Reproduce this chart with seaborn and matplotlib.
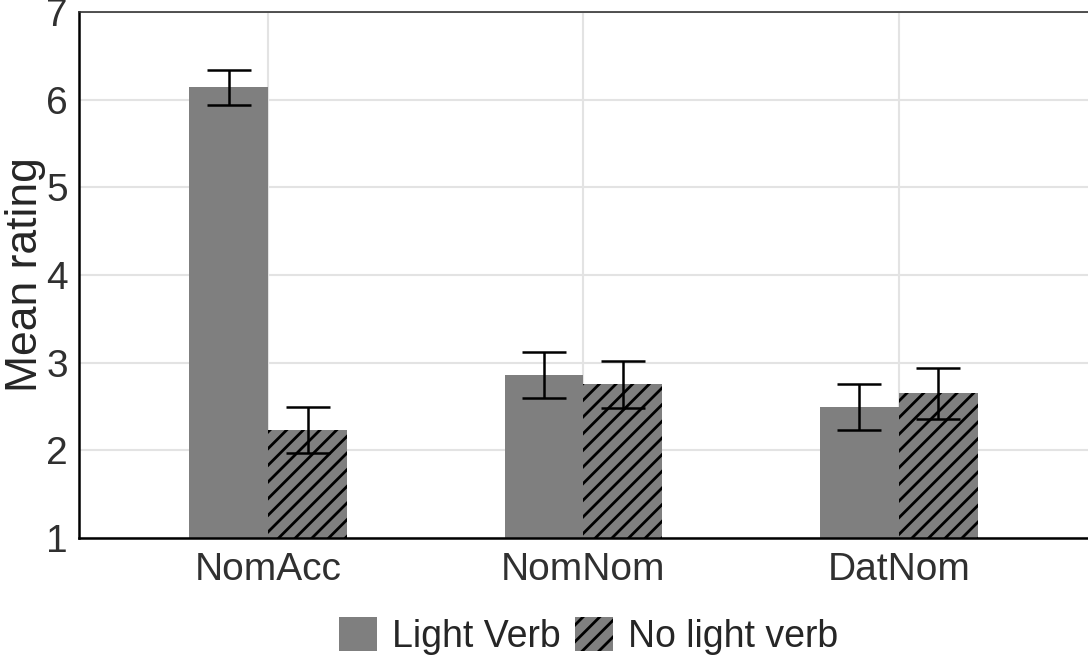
import pandas as pd
import matplotlib
matplotlib.use("Agg")
import matplotlib.pyplot as plt
import matplotlib.patches as mpatches
import seaborn as sns

# Data
conditions = ["NomAcc", "NomNom", "DatNom"]
light_verb = [6.14, 2.86, 2.49]
no_light_verb = [2.23, 2.75, 2.65]
light_err = [0.20, 0.26, 0.26]
no_light_err = [0.26, 0.27, 0.29]
groups = ["Light Verb", "No light verb"]

df = pd.DataFrame({
    "Condition": conditions * 2,
    "Group": [groups[0]] * 3 + [groups[1]] * 3,
    "Mean": light_verb + no_light_verb,
    "Err": light_err + no_light_err,
})

sns.set_style("white")
plt.rcParams['font.family'] = ['Liberation Sans', 'DejaVu Sans']
plt.rcParams['hatch.linewidth'] = 2.0

fig = plt.figure(figsize=(10.88, 6.64), dpi=100)
ax = fig.add_axes([0.0726, 0.19, 0.9274, 0.792])

grey = "#7f7f7f"
sns.barplot(data=df, x="Condition", y="Mean", hue="Group", order=conditions,
            hue_order=groups, palette=[grey, grey], width=0.5,
            errorbar=None, ax=ax, legend=False, linewidth=0, saturation=1)

# hatch the second series and add error bars at each bar centre
bar_containers = list(ax.containers)
for i, container in enumerate(bar_containers):
    errs = light_err if i == 0 else no_light_err
    vals = light_verb if i == 0 else no_light_verb
    xs = []
    for bar in container.patches:
        if i == 1:
            bar.set_hatch("//")
            bar.set_edgecolor("black")
            bar.set_linewidth(0)
        xs.append(bar.get_x() + bar.get_width() / 2)
    ax.errorbar(xs, vals, yerr=errs, fmt="none", ecolor="black",
                elinewidth=1.8, capsize=16, capthick=1.8, zorder=5)

ax.set_ylim(1, 7)
ax.set_xlim(-0.6, 2.6)
ax.set_yticks([1, 2, 3, 4, 5, 6, 7])
ax.set_axisbelow(True)
ax.grid(True, color="#e3e3e3", linewidth=1.5)
ax.set_xlabel("")
ax.set_ylabel("Mean rating", fontsize=32)
ax.yaxis.set_label_coords(-0.033, 0.5)
ax.tick_params(axis="both", labelsize=28, length=5, width=1.2,
               colors="black", labelcolor="#303030", direction="out")
ax.tick_params(axis="x", pad=5)
ax.tick_params(axis="y", pad=3)

for side in ["left", "bottom"]:
    ax.spines[side].set_color("black")
    ax.spines[side].set_linewidth(1.8)
ax.spines["top"].set_color("#333333")
ax.spines["top"].set_linewidth(1.2)
ax.spines["right"].set_visible(False)

handles = [mpatches.Patch(facecolor=grey, edgecolor="none", label=groups[0]),
           mpatches.Patch(facecolor=grey, edgecolor="black", hatch="//",
                          linewidth=0, label=groups[1])]
fig.legend(handles=handles, loc="center", bbox_to_anchor=(0.541, 0.042),
           ncol=2, frameon=False, fontsize=27, handlelength=1.0,
           handleheight=1.0, handletextpad=0.4, columnspacing=0.4)

fig.savefig("out.png", dpi=100)
